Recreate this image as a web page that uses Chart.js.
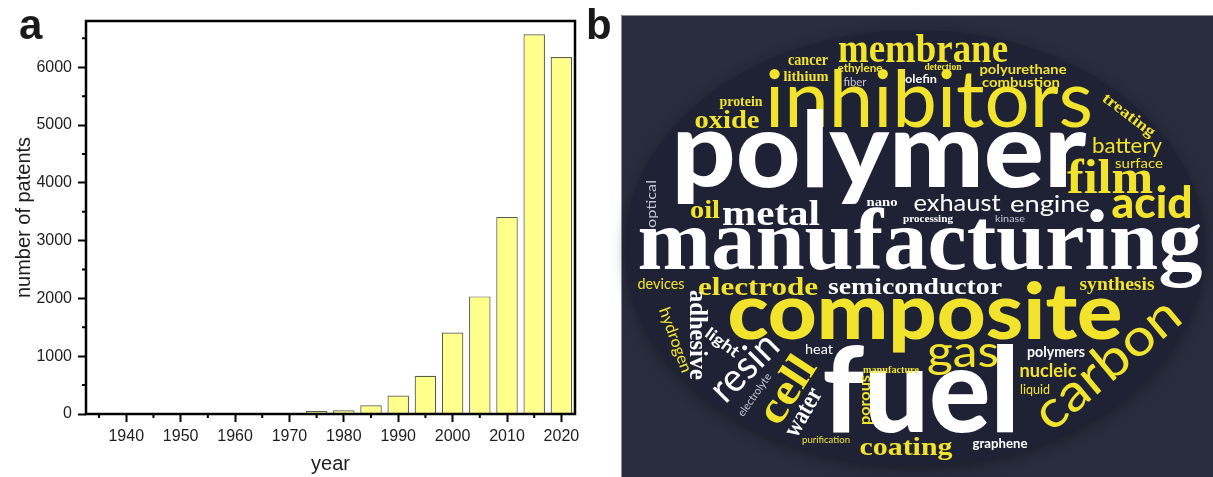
<!DOCTYPE html>
<html>
<head>
<meta charset="utf-8">
<script src="https://cdn.jsdelivr.net/npm/chart.js@4.4.1/dist/chart.umd.min.js"></script>
<style>
  body { margin: 0; background: #fff; }
  #wrap { position: relative; width: 1213px; height: 477px; overflow: hidden; }
  canvas { position: absolute; top: 0; }
  .tag { position: absolute; z-index: 2; font: bold 42px "Liberation Sans", Arial, sans-serif; line-height: 42px; color: #1a1a1a; }
</style>
</head>
<body>
<div id="wrap">
  <canvas id="patents" width="600" height="477" style="left:0"></canvas>
  <canvas id="cloud" width="613" height="477" style="left:600px"></canvas>
  <div class="tag" style="left:19px;top:4px">a</div>
  <div class="tag" style="left:586px;top:4px">b</div>
</div>
<script>
// panel a : patents per five year bin
var years = [1975, 1980, 1985, 1990, 1995, 2000, 2005, 2010, 2015, 2020];
var patents = [50, 65, 150, 320, 660, 1410, 2035, 3410, 6570, 6175];
var yearTicks = [1940, 1950, 1960, 1970, 1980, 1990, 2000, 2010, 2020];
var yearMinor = [1935, 1945, 1955, 1965, 1975, 1985, 1995, 2005, 2015];
var patentTicks = [0, 1000, 2000, 3000, 4000, 5000, 6000];
var patentMinor = [500, 1500, 2500, 3500, 4500, 5500, 6500];

// panel b : word cloud terms
var words = ['membrane', 'cancer', 'ethylene', 'lithium', 'fiber', 'detection', 'olefin',
  'polyurethane', 'combustion', 'inhibitors', 'protein', 'oxide', 'treating', 'battery',
  'surface', 'polymer', 'film', 'acid', 'exhaust', 'engine', 'processing', 'kinase', 'nano',
  'oil', 'metal', 'optical', 'manufacturing', 'devices', 'electrode', 'semiconductor',
  'synthesis', 'composite', 'adhesive', 'hydrogen', 'light', 'resin', 'heat', 'cell',
  'electrolyte', 'water', 'purification', 'fuel', 'manufacture', 'porous', 'gas', 'polymers',
  'nucleic', 'liquid', 'carbon', 'coating', 'graphene'];

// layout of the cloud (page px): x, y, font size, text width, rotation, font, colour
var wordLayout = [
  [923, 62, 41, 170, 0, 'S', 'Y'],
  [808, 65, 16, 40, 0, 'S', 'Y'],
  [860, 72, 11, 45, 0, 'b', 'Y'],
  [806, 81, 14, 45, 0, 'S', 'Y'],
  [855, 86, 12, 23, 0, 'L', 'G'],
  [943, 70, 11, 37, 0, 'S', 'Y'],
  [921, 83, 12, 32, 0, 'b', 'W'],
  [1023, 74, 14, 87, 0, 'b', 'Y'],
  [1021, 87, 14, 78, 0, 'b', 'Y'],
  [929, 127, 80, 328, 0, 'L', 'Y'],
  [741, 106, 15, 43, 0, 'S', 'Y'],
  [727, 128, 26, 65, 0, 'S', 'Y'],
  [1129, 115, 16, 62, 37, 'S', 'Y'],
  [1127, 153, 22, 70, 0, 'L', 'Y'],
  [1139, 168, 14, 48, 0, 'L', 'Y'],
  [879, 187, 104, 415, 0, 'B', 'W'],
  [1110, 193, 48, 86, 0, 'S', 'Y'],
  [1152, 218, 44, 81, 0, 'B', 'Y'],
  [957, 211, 24, 87, 0, 'L', 'W'],
  [1050, 212, 24, 80, 0, 'L', 'W'],
  [928, 222, 10, 50, 0, 'S', 'W'],
  [1010, 222, 10, 30, 0, 'L', 'G'],
  [882, 206, 12, 31, 0, 'S', 'W'],
  [705, 218, 26, 30, 0, 'S', 'Y'],
  [771, 225, 36, 98, 0, 'S', 'W'],
  [652, 204, 14, 48, -90, 'L', 'G'],
  [920, 269, 86, 565, 0, 'S', 'W'],
  [661, 289, 15, 47, 0, 'L', 'Y'],
  [758, 295, 25, 120, 0, 'S', 'Y'],
  [915, 294, 24, 174, 0, 'S', 'W'],
  [1117, 290, 18, 75, 0, 'S', 'Y'],
  [925, 339, 78, 395, 0, 'B', 'Y'],
  [698, 335, 26, 90, 90, 'S', 'W'],
  [675, 340, 16, 68, 70, 'L', 'Y'],
  [722, 343, 16, 38, 36, 'b', 'W'],
  [745, 368, 40, 80, -45, 'L', 'W'],
  [819, 354, 14, 28, 0, 'L', 'W'],
  [787, 390, 44, 72, -57, 'S', 'Y'],
  [755, 395, 11, 50, -55, 'L', 'G'],
  [803, 412, 26, 52, -60, 'S', 'W'],
  [826, 443, 10, 48, 0, 'L', 'Y'],
  [921, 432, 118, 197, 0, 'B', 'W'],
  [891, 373, 10, 56, 0, 'S', 'Y'],
  [865, 400, 16, 50, -90, 'b', 'Y'],
  [963, 367, 45, 72, 0, 'L', 'Y'],
  [1056, 357, 15, 58, 0, 'b', 'W'],
  [1048, 377, 19, 57, 0, 'b', 'Y'],
  [1035, 394, 13, 30, 0, 'L', 'Y'],
  [1108, 365, 52, 175, -40, 'L', 'Y'],
  [906, 455, 26, 93, 0, 'S', 'Y'],
  [1000, 448, 14, 55, 0, 'b', 'W']
];

var fontOf = {
  S: ['bold', '"Liberation Serif", serif'],
  L: ['normal', 'Lato, sans-serif'],
  B: ['900', 'Lato, sans-serif'],
  b: ['bold', 'Lato, sans-serif']
};
var colourOf = { Y: '#f2e42d', W: '#ffffff', G: '#c4c5ce' };

var sans = '"Liberation Sans", Arial, sans-serif';

var framePlugin = {
  id: 'frame',
  afterDraw: function (chart) {
    var ctx = chart.ctx, a = chart.chartArea, x = chart.scales.x, y = chart.scales.y;
    ctx.save();
    ctx.strokeStyle = '#000';
    ctx.lineWidth = 2;
    ctx.beginPath();
    yearMinor.forEach(function (v) {
      var px = x.getPixelForValue(v);
      ctx.moveTo(px, a.bottom);
      ctx.lineTo(px, a.bottom + 4);
    });
    patentMinor.forEach(function (v) {
      var py = y.getPixelForValue(v);
      ctx.moveTo(a.left - 4, py);
      ctx.lineTo(a.left, py);
    });
    ctx.stroke();
    ctx.lineWidth = 2.5;
    ctx.strokeRect(a.left, a.top, a.right - a.left, a.bottom - a.top);
    ctx.restore();
  }
};

new Chart(document.getElementById('patents'), {
  type: 'bar',
  data: {
    datasets: [{
      data: years.map(function (yr, i) { return { x: yr, y: patents[i] }; }),
      backgroundColor: '#ffff8c',
      borderColor: '#5a5a48',
      borderWidth: 1.2,
      barPercentage: 0.79,
      categoryPercentage: 1
    }]
  },
  options: {
    responsive: false,
    animation: false,
    devicePixelRatio: 1,
    layout: { padding: { top: 21, right: 25, left: 0, bottom: 0 } },
    plugins: { legend: { display: false }, tooltip: { enabled: false } },
    scales: {
      x: {
        type: 'linear', min: 1932.6, max: 2022.5, offset: false,
        grid: { drawOnChartArea: false, offset: false, tickLength: 8, tickWidth: 2, tickColor: '#000' },
        border: { display: false },
        afterBuildTicks: function (s) { s.ticks = yearTicks.map(function (v) { return { value: v }; }); },
        ticks: { autoSkip: false, maxRotation: 0, padding: 5, color: '#1e1e1e', font: { family: sans, size: 16 },
          callback: function (v) { return String(v); } },
        title: { display: true, text: 'year', color: '#1e1e1e', font: { family: sans, size: 20 }, padding: { top: 0, bottom: 1 } },
        afterFit: function (s) { s.height = 63; }
      },
      y: {
        min: 0, max: 6800,
        grid: { drawOnChartArea: false, tickLength: 8, tickWidth: 2, tickColor: '#000' },
        border: { display: false },
        afterBuildTicks: function (s) { s.ticks = patentTicks.map(function (v) { return { value: v }; }); },
        ticks: { autoSkip: false, padding: 6, color: '#1e1e1e', font: { family: sans, size: 16 },
          callback: function (v) { return String(v); } },
        title: { display: true, text: 'number of patents', color: '#1e1e1e', font: { family: sans, size: 20 }, padding: { top: 12, bottom: 0 } },
        afterFit: function (s) { s.width = 86; }
      }
    }
  },
  plugins: [framePlugin]
});

// word cloud: each word is a point, the plugin writes the word at that point
var cloudPlugin = {
  id: 'cloud',
  beforeDatasetsDraw: function (chart) {
    var ctx = chart.ctx, x = chart.scales.x, y = chart.scales.y;
    var l = x.getPixelForValue(621), r = x.getPixelForValue(1213);
    var t = y.getPixelForValue(15), b = y.getPixelForValue(477);
    ctx.save();
    ctx.fillStyle = '#292c3d';
    ctx.fillRect(l, t, r - l, b - t);
    ctx.strokeStyle = '#8d8f99';
    ctx.lineWidth = 1;
    ctx.beginPath();
    ctx.moveTo(l + 0.5, b);
    ctx.lineTo(l + 0.5, t + 0.5);
    ctx.lineTo(r, t + 0.5);
    ctx.stroke();
    ctx.shadowColor = 'rgba(0,0,0,0.35)';
    ctx.shadowBlur = 14;
    ctx.shadowOffsetY = 3;
    ctx.fillStyle = '#1f2235';
    ctx.beginPath();
    ctx.ellipse(x.getPixelForValue(915), y.getPixelForValue(248), 290, 218, 0, 0, Math.PI * 2);
    ctx.fill();
    ctx.restore();
  },
  afterDatasetsDraw: function (chart) {
    var ctx = chart.ctx;
    var pts = chart.getDatasetMeta(0).data;
    words.forEach(function (w, i) {
      var L = wordLayout[i], p = pts[i];
      var f = fontOf[L[5]];
      ctx.save();
      ctx.translate(p.x, p.y);
      ctx.rotate(L[4] * Math.PI / 180);
      ctx.font = f[0] + ' ' + L[2] + 'px ' + f[1];
      ctx.textAlign = 'center';
      ctx.textBaseline = 'alphabetic';
      var m = ctx.measureText(w).width;
      ctx.scale(L[3] / m, 1);
      ctx.fillStyle = colourOf[L[6]];
      ctx.fillText(w, 0, L[4] === 0 ? 0 : L[2] * 0.3);
      ctx.restore();
    });
  }
};

new Chart(document.getElementById('cloud'), {
  type: 'scatter',
  data: {
    datasets: [{
      data: wordLayout.map(function (L) { return { x: L[0], y: L[1] }; }),
      pointRadius: 0
    }]
  },
  options: {
    responsive: false,
    animation: false,
    devicePixelRatio: 1,
    layout: { padding: 0 },
    plugins: { legend: { display: false }, tooltip: { enabled: false } },
    scales: {
      x: { type: 'linear', display: false, min: 600, max: 1213 },
      y: { type: 'linear', display: false, min: 0, max: 477, reverse: true }
    }
  },
  plugins: [cloudPlugin]
});
</script>
</body>
</html>
